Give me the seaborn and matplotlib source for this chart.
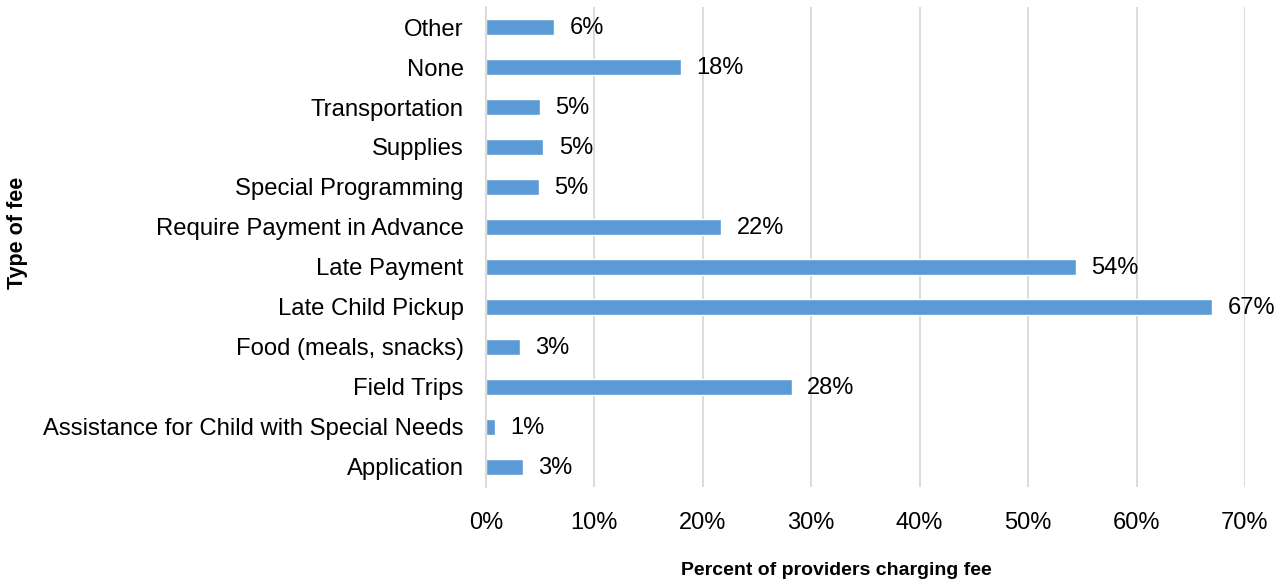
import matplotlib
matplotlib.use("Agg")
import matplotlib.pyplot as plt
import seaborn as sns
import pandas as pd

categories = ["Other", "None", "Transportation", "Supplies", "Special Programming",
              "Require Payment in Advance", "Late Payment", "Late Child Pickup",
              "Food (meals, snacks)", "Field Trips",
              "Assistance for Child with Special Needs", "Application"]
values = [6.3, 18.0, 5.0, 5.3, 4.9, 21.7, 54.4, 67.0, 3.1, 28.2, 0.8, 3.4]
labels = ["6%", "18%", "5%", "5%", "5%", "22%", "54%", "67%", "3%", "28%", "1%", "3%"]
xticks = [0, 10, 20, 30, 40, 50, 60, 70]

sns.set_theme(style="white")
plt.rcParams["font.family"] = ["Liberation Sans", "DejaVu Sans"]

df = pd.DataFrame({"cat": categories, "val": values})

fig = plt.figure(figsize=(12.88, 5.88), dpi=100)
ax = fig.add_axes([0.3773, 0.172, 0.5893, 0.816])
sns.barplot(data=df, y="cat", x="val", order=categories, color="#5B9BD5",
            saturation=1, width=0.4, ax=ax)

for i, (v, lab) in enumerate(zip(values, labels)):
    ax.annotate(lab, (v, i), xytext=(11, -1), textcoords="offset points",
                va="center", ha="left", fontsize=17, color="#000000")

ax.set_xlim(0, 70)
ax.set_ylim(11.5, -0.5)
ax.set_xticks(xticks)
ax.set_xticklabels([f"{t}%" for t in xticks], fontsize=17, color="#000000")
ax.tick_params(axis="y", labelsize=17.2, length=0, pad=16, labelcolor="#000000")
ax.tick_params(axis="x", length=0, pad=18)
ax.xaxis.grid(True, color="#D9D9D9", linewidth=1.3)
ax.set_axisbelow(True)
for s in ["top", "right", "bottom"]:
    ax.spines[s].set_visible(False)
ax.spines["left"].set_color("#D9D9D9")
ax.spines["left"].set_linewidth(1.3)

ax.set_xlabel("Percent of providers charging fee", fontsize=14, fontweight="bold",
              color="#000000")
ax.set_ylabel("Type of fee", fontsize=15.5, fontweight="bold", color="#000000")
ax.xaxis.set_label_coords(0.462, -0.175)
ax.yaxis.set_label_coords(-0.617, 0.529)
ax.xaxis.label.set_va("center")
ax.yaxis.label.set_va("center")

fig.savefig("out.png", dpi=100)
